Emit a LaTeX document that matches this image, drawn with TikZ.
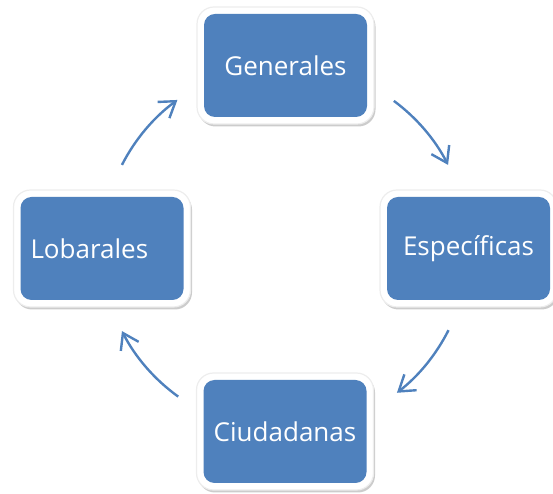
\documentclass[tikz,border=0pt]{standalone}
\usepackage{fontspec}
\setmainfont{Open Sans}
\usetikzlibrary{arrows.meta,shadows}
\definecolor{azul}{HTML}{4F81BD}
\begin{document}
\begin{tikzpicture}[x=1pt,y=1pt,
		caja/.style={rectangle,rounded corners=17pt,fill=white,draw=black!7,line width=1.2pt,
			minimum width=177pt,minimum height=117pt,text=white,
			font=\fontsize{26}{30}\selectfont,
			drop shadow={shadow xshift=1.5pt,shadow yshift=-2.5pt,fill=black!50,opacity=0.4},
			path picture={\fill[azul,rounded corners=11pt]
				([shift={(7pt,7pt)}]path picture bounding box.south west) rectangle
				([shift={(-7pt,-7pt)}]path picture bounding box.north east);}},
		flecha/.style={color=azul,line width=2.4pt,-{Straight Barb[length=15pt,width=20pt]}}]
		\useasboundingbox (0,0) rectangle (553,494);
		\node[caja] (generales) at (285.5,428.5) {Generales};
		\node[caja] (especificas) at (468.5,245.5) {Específicas};
		\node[caja] (ciudadanas) at (285,62.5) {Ciudadanas};
		\node[caja,text width=143pt,inner xsep=17pt,align=left] (lobarales) at (102,245.5) {Lobarales};
		\coordinate (centro) at (285,246);
		\draw[flecha] ([shift={(153:183)}]centro) arc[radius=183,start angle=153,end angle=126];
		\draw[flecha] ([shift={(53.5:183)}]centro) arc[radius=183,start angle=53.5,end angle=27];
		\draw[flecha] ([shift={(-26.7:183)}]centro) arc[radius=183,start angle=-26.7,end angle=-52.3];
		\draw[flecha] ([shift={(234.3:183)}]centro) arc[radius=183,start angle=234.3,end angle=207];
	\end{tikzpicture}
\end{document}
